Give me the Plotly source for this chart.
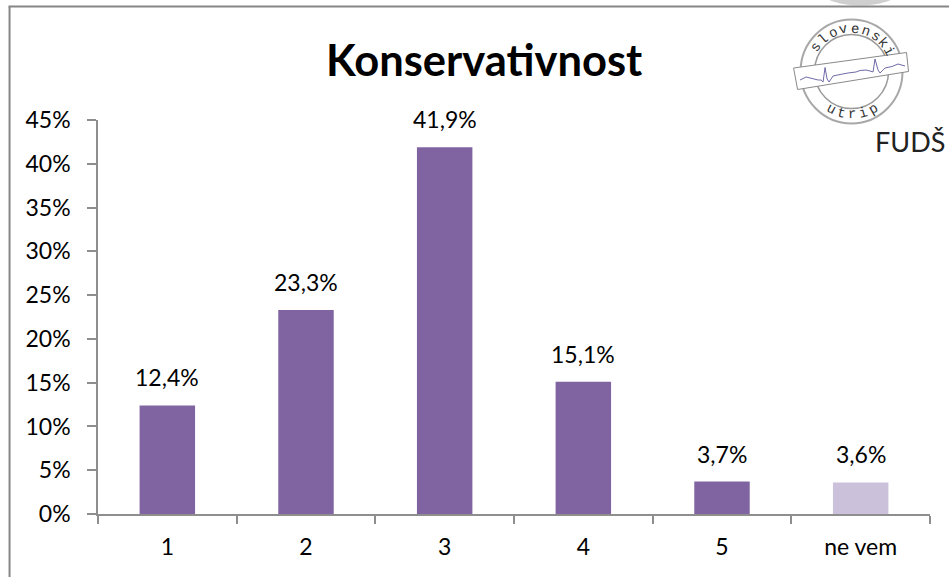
import math
import plotly.graph_objects as go

categories = ["1", "2", "3", "4", "5", "ne vem"]
values = [12.4, 23.3, 41.9, 15.1, 3.7, 3.6]
labels = ["12,4%", "23,3%", "41,9%", "15,1%", "3,7%", "3,6%"]
colors = ["#8064A2"] * 5 + ["#CBC1DB"]
y_ticks = [0, 5, 10, 15, 20, 25, 30, 35, 40, 45]
y_text = [f"{t}%" for t in y_ticks]

W, H = 949, 577
L, R, T, B = 97.5, 930, 120, 514
FONT = "Lato, Carlito, Open Sans, sans-serif"
GREY = "#868686"
AXIS = "#8E8E8E"
TXT = 23


def px(x):
    return (x - L) / (R - L)


def py(y):
    return (B - y) / (B - T)


def path(points, close=False):
    s = "M " + " L ".join(f"{px(x):.5f},{py(y):.5f}" for x, y in points)
    return s + (" Z" if close else "")


fig = go.Figure(
    go.Bar(
        x=categories,
        y=values,
        marker=dict(color=colors, line=dict(width=0)),
        width=0.4,
        hoverinfo="skip",
    )
)

# logo geometry (decoration, in page pixels)
cx, cy = 851.5, 71.5
band = [(793.5, 68), (906.5, 52.5), (908.5, 71.5), (797.5, 89.5)]
ecg = [(800, 80), (806, 77), (812, 78.5), (818, 80), (821, 80), (823, 82), (825, 67.5), (827, 79), (829, 82),
       (833, 76), (840, 74.5), (848, 73), (856, 72), (860, 70.5), (866, 70), (870, 71), (873, 72),
       (875, 59), (878, 70), (880, 73), (885, 68), (892, 66.5), (898, 64), (905, 66)]

shapes = [
    dict(type="circle", xref="paper", yref="paper", x0=px(823), x1=px(897), y0=py(5.5), y1=py(-20),
         line=dict(width=0), fillcolor="#CFCFCF"),
    dict(type="line", xref="paper", yref="paper", x0=px(9), x1=px(9), y0=py(6.5), y1=py(577),
         line=dict(color=GREY, width=2)),
    dict(type="line", xref="paper", yref="paper", x0=px(8), x1=px(949), y0=py(6.5), y1=py(6.5),
         line=dict(color=GREY, width=2)),
    dict(type="circle", xref="paper", yref="paper", x0=px(cx - 51), x1=px(cx + 51), y0=py(cy - 52), y1=py(cy + 52),
         line=dict(color="#A8A8A8", width=2), fillcolor="rgba(0,0,0,0)"),
    dict(type="circle", xref="paper", yref="paper", x0=px(cx - 37), x1=px(cx + 37), y0=py(cy - 37), y1=py(cy + 37),
         line=dict(color="#9A9A9A", width=1.5), fillcolor="rgba(0,0,0,0)"),
    dict(type="path", xref="paper", yref="paper", path=path(band, True),
         line=dict(color="#8A8A8A", width=1), fillcolor="#FFFFFF"),
    dict(type="path", xref="paper", yref="paper", path=path(ecg),
         line=dict(color="#6F6AA8", width=1)),
]

annotations = [
    dict(text="<b>Konservativnost</b>", xref="paper", yref="paper", x=px(484), y=py(59), showarrow=False,
         font=dict(size=43.5, color="#000000", family=FONT), xanchor="center", yanchor="middle"),
    dict(text="FUDŠ", xref="paper", yref="paper", x=px(947), y=py(142), showarrow=False,
         font=dict(size=27, color="#222222", family=FONT), xanchor="right", yanchor="middle"),
]

for i, (val, lab) in enumerate(zip(values, labels)):
    annotations.append(dict(text=lab, x=i, y=val, xref="x", yref="y", showarrow=False, yanchor="bottom",
                            yshift=12, font=dict(size=TXT, color="#000000", family=FONT)))

# curved lettering of the stamp
for ch, ang in zip("slovenski", [-146, -131, -116, -101, -86, -71, -56, -42, -29]):
    a = math.radians(ang)
    annotations.append(dict(text=ch, xref="paper", yref="paper", x=px(cx + 43 * math.cos(a)), y=py(cy + 43 * math.sin(a)),
                            showarrow=False, textangle=ang + 90, xanchor="center", yanchor="middle",
                            font=dict(size=14, color="#333333", family="Liberation Mono")))
for ch, ang in zip("utrip", [118, 104, 89, 74, 60]):
    a = math.radians(ang)
    annotations.append(dict(text=ch, xref="paper", yref="paper", x=px(cx + 43 * math.cos(a)), y=py(cy + 43 * math.sin(a)),
                            showarrow=False, textangle=ang - 90, xanchor="center", yanchor="middle",
                            font=dict(size=14, color="#333333", family="Liberation Mono")))

fig.update_layout(
    width=W,
    height=H,
    margin=dict(l=L, r=W - R, t=T, b=H - B, pad=0),
    paper_bgcolor="#FFFFFF",
    plot_bgcolor="#FFFFFF",
    showlegend=False,
    shapes=shapes,
    annotations=annotations,
    xaxis=dict(
        type="category",
        categoryorder="array",
        categoryarray=categories,
        showgrid=False,
        showline=True,
        linecolor=AXIS,
        linewidth=1.5,
        ticks="outside",
        tickson="boundaries",
        ticklen=8,
        tickcolor=AXIS,
        tickwidth=1.5,
        tickfont=dict(size=TXT, color="#000000", family=FONT),
        ticklabelstandoff=12,
    ),
    yaxis=dict(
        range=[0, 45],
        tickvals=y_ticks,
        ticktext=y_text,
        showgrid=False,
        zeroline=False,
        showline=True,
        linecolor=AXIS,
        linewidth=1.5,
        ticks="outside",
        ticklen=9,
        tickcolor=AXIS,
        tickwidth=1.5,
        tickfont=dict(size=TXT, color="#000000", family=FONT),
        ticklabelstandoff=12,
    ),
)
fig.write_html("out.html", config={"displayModeBar": False}, post_script="document.body.style.margin='0';")
